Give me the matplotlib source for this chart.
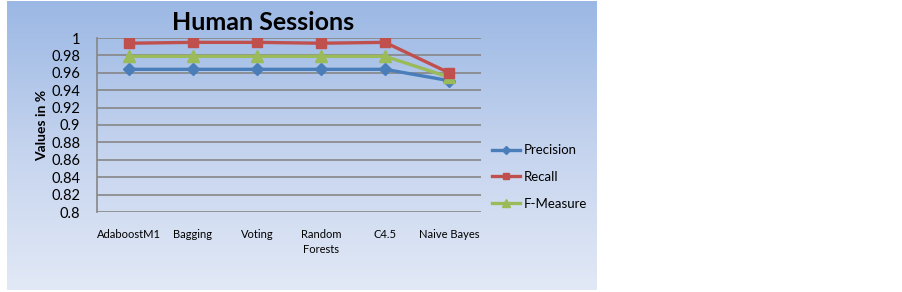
import numpy as np
import matplotlib
matplotlib.use('Agg')
import matplotlib.pyplot as plt
from matplotlib.colors import LinearSegmentedColormap

plt.rcParams['font.family'] = ['Lato', 'DejaVu Sans']

categories = ['AdaboostM1', 'Bagging', 'Voting', 'Random\nForests', 'C4.5', 'Naive Bayes']
precision = [0.964, 0.964, 0.964, 0.964, 0.964, 0.951]
recall = [0.994, 0.995, 0.995, 0.994, 0.995, 0.960]
f_measure = [0.979, 0.979, 0.979, 0.979, 0.979, 0.955]
y_ticks = [0.8, 0.82, 0.84, 0.86, 0.88, 0.9, 0.92, 0.94, 0.96, 0.98, 1]

W, H = 902, 292
fig = plt.figure(figsize=(W / 100, H / 100), dpi=100, facecolor='white')

# gradient panel behind the chart
bg = fig.add_axes([7 / W, 1 - 290 / H, 590 / W, 289 / H])
cmap = LinearSegmentedColormap.from_list('panel', ['#9bb8e4', '#c4d3ee', '#e2e9f6'])
bg.imshow(np.linspace(0, 1, 256).reshape(-1, 1), aspect='auto', cmap=cmap,
          extent=[0, 1, 0, 1])
bg.set_axis_off()

ax = fig.add_axes([97 / W, 1 - 212 / H, 384 / W, 174 / H])
ax.set_facecolor('none')

x = np.arange(len(categories))
ax.plot(x, precision, color='#4a7ebb', lw=2.4, marker='D', ms=6, label='Precision', zorder=3)
ax.plot(x, recall, color='#c0504d', lw=2.4, marker='s', ms=7.5, label='Recall', zorder=4)
ax.plot(x, f_measure, color='#9bbb59', lw=2.4, marker='^', ms=8, label='F-Measure', zorder=3)

ax.set_xlim(-0.5, len(categories) - 0.5)
ax.set_ylim(0.8, 1.0)
ax.set_yticks(y_ticks)
ax.set_yticklabels(['0.8', '0.82', '0.84', '0.86', '0.88', '0.9', '0.92', '0.94', '0.96', '0.98', '1'])
ax.set_xticks(x)
ax.set_xticklabels(categories, fontsize=8, linespacing=1.5)
ax.tick_params(axis='x', length=0, pad=12)
ax.tick_params(axis='y', length=0, pad=12, labelsize=10.5)
ax.grid(axis='y', color='#868686', lw=1.2)
ax.set_axisbelow(True)
for s in ['top', 'right', 'bottom']:
    ax.spines[s].set_visible(False)
ax.spines['left'].set_color('#868686')
ax.spines['left'].set_linewidth(1.2)

ax.set_ylabel('Values in %', fontsize=10, fontweight='bold', labelpad=2)
fig.text(263 / W, 1 - 22 / H, 'Human Sessions', fontsize=18, fontweight='bold',
         ha='center', va='center')

fig.legend(loc='center left', bbox_to_anchor=(480 / W, 1 - 177 / H), frameon=False,
           fontsize=9.5, handlelength=2.1, labelspacing=1.1, handletextpad=0.3,
           markerscale=0.65)

fig.savefig('out.png', dpi=100)
